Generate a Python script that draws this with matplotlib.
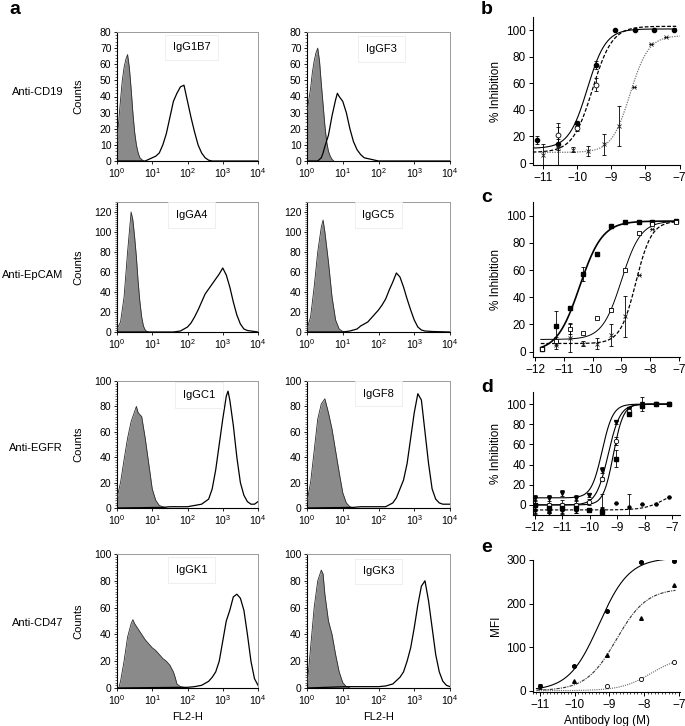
import numpy as np
import matplotlib
matplotlib.use('Agg')
import matplotlib.pyplot as plt
from matplotlib.ticker import LogLocator, NullFormatter, MultipleLocator, FixedLocator

plt.rcParams['font.family'] = ['Liberation Sans', 'DejaVu Sans']
plt.rcParams['mathtext.fontset'] = 'custom'
plt.rcParams['mathtext.rm'] = 'Liberation Sans'
plt.rcParams['axes.unicode_minus'] = True

# ---------------- Panel a : flow histograms (log10 FL2-H, counts) ----------------
g1b7_gray_log = [0.0, 0.05, 0.1, 0.15, 0.2, 0.25, 0.3, 0.35, 0.4, 0.45, 0.5, 0.55, 0.6, 0.65, 0.7, 0.75]
g1b7_gray_cnt = [12, 25, 38, 50, 58, 63, 66, 58, 45, 30, 18, 10, 5, 2, 1, 0]
g1b7_stain_log = [0.0, 0.8, 0.9, 1.0, 1.1, 1.2, 1.3, 1.4, 1.5, 1.6, 1.7, 1.8, 1.9, 2.0, 2.1, 2.2, 2.3, 2.4, 2.5, 2.6, 2.7, 4.0]
g1b7_stain_cnt = [0, 0, 1, 2, 3, 5, 10, 17, 27, 37, 42, 46, 47, 37, 27, 18, 10, 5, 2, 0.5, 0, 0]

gf3_gray_log = [0.0, 0.05, 0.1, 0.15, 0.2, 0.25, 0.3, 0.35, 0.4, 0.45, 0.5, 0.55, 0.6, 0.65, 0.7, 0.75]
gf3_gray_cnt = [30, 38, 45, 55, 62, 67, 70, 62, 48, 35, 22, 12, 6, 3, 1, 0]
gf3_stain_log = [0.0, 0.3, 0.4, 0.45, 0.5, 0.6, 0.7, 0.8, 0.85, 0.9, 1.0, 1.1, 1.2, 1.3, 1.4, 1.5, 1.6, 1.7, 1.8, 1.9, 2.0, 4.0]
gf3_stain_cnt = [0, 0, 2, 5, 9, 16, 28, 38, 42, 40, 37, 30, 20, 12, 7, 4, 2, 1.5, 1, 0.5, 0, 0]

ga4_gray_log = [0.0, 0.1, 0.2, 0.3, 0.35, 0.4, 0.45, 0.5, 0.55, 0.6, 0.65, 0.7, 0.75, 0.8, 0.85, 0.9]
ga4_gray_cnt = [3, 10, 35, 80, 100, 120, 112, 95, 75, 50, 30, 15, 6, 2, 0.5, 0]
ga4_stain_log = [0.0, 1.6, 1.8, 1.9, 2.0, 2.1, 2.2, 2.3, 2.4, 2.5, 2.6, 2.7, 2.8, 2.9, 3.0, 3.1, 3.2, 3.3, 3.4, 3.5, 3.6, 3.7, 3.8, 3.9, 4.0]
ga4_stain_cnt = [0, 0, 1, 3, 5, 9, 15, 22, 30, 38, 43, 48, 53, 58, 64, 57, 45, 30, 17, 8, 3, 1.5, 1, 0.5, 0]

gc5_gray_log = [0.0, 0.1, 0.2, 0.3, 0.4, 0.45, 0.5, 0.6, 0.7, 0.8, 0.9, 1.0, 1.1]
gc5_gray_cnt = [3, 15, 45, 80, 105, 112, 100, 70, 35, 12, 3, 0.5, 0]
gc5_stain_log = [0.0, 1.0, 1.2, 1.4, 1.5, 1.7, 1.9, 2.0, 2.1, 2.2, 2.3, 2.4, 2.5, 2.6, 2.7, 2.8, 2.9, 3.0, 3.1, 3.2, 3.3, 3.5, 4.0]
gc5_stain_cnt = [0, 0, 1, 3, 6, 10, 18, 22, 27, 33, 42, 50, 59, 55, 45, 33, 22, 12, 5, 2, 1, 0.5, 0]

gc1_gray_log = [0.0, 0.1, 0.2, 0.3, 0.4, 0.5, 0.55, 0.6, 0.7, 0.8, 0.9, 1.0, 1.1, 1.2, 1.3, 1.4]
gc1_gray_cnt = [8, 20, 38, 55, 68, 76, 80, 75, 72, 55, 35, 15, 6, 2, 1, 0]
gc1_stain_log = [0.0, 1.3, 1.5, 2.0, 2.4, 2.6, 2.7, 2.8, 2.9, 3.0, 3.1, 3.15, 3.2, 3.3, 3.4, 3.5, 3.6, 3.7, 3.8, 3.9, 4.0]
gc1_stain_cnt = [0, 0.5, 1, 1, 3, 7, 15, 30, 50, 70, 88, 92, 85, 65, 40, 20, 10, 5, 3, 3, 5]

gf8_gray_log = [0.0, 0.1, 0.2, 0.3, 0.4, 0.5, 0.6, 0.7, 0.8, 0.9, 1.0, 1.1, 1.2, 1.3]
gf8_gray_cnt = [5, 20, 45, 70, 82, 86, 75, 62, 45, 28, 12, 4, 1, 0]
gf8_stain_log = [0.0, 1.3, 1.5, 2.0, 2.2, 2.4, 2.5, 2.6, 2.7, 2.8, 2.9, 3.0, 3.1, 3.2, 3.3, 3.4, 3.5, 3.6, 3.7, 3.8, 3.9, 4.0]
gf8_stain_cnt = [0, 0.5, 1, 1, 1, 4, 8, 15, 22, 35, 55, 75, 90, 85, 60, 35, 15, 7, 4, 3, 3, 3]

gk1_gray_log = [0.0, 0.05, 0.1, 0.2, 0.3, 0.4, 0.45, 0.5, 0.6, 0.7, 0.8, 0.9, 1.0, 1.1, 1.2, 1.3, 1.4, 1.5, 1.6, 1.65, 1.7, 1.8, 1.9, 2.0]
gk1_gray_cnt = [0, 0, 5, 20, 38, 48, 51, 48, 44, 40, 36, 33, 30, 28, 25, 22, 20, 17, 12, 8, 3, 1, 0.5, 0]
gk1_stain_log = [0.0, 1.8, 2.0, 2.2, 2.4, 2.6, 2.7, 2.8, 2.9, 3.0, 3.1, 3.2, 3.3, 3.4, 3.5, 3.6, 3.7, 3.8, 3.9, 4.0]
gk1_stain_cnt = [0, 0.5, 0.5, 1, 2, 5, 8, 12, 20, 35, 50, 58, 68, 70, 67, 58, 40, 20, 7, 2]

gk3_gray_log = [0.0, 0.05, 0.1, 0.2, 0.3, 0.4, 0.45, 0.5, 0.6, 0.7, 0.8, 0.9, 1.0, 1.1, 1.2]
gk3_gray_cnt = [3, 15, 30, 60, 80, 88, 85, 70, 50, 40, 25, 12, 4, 1, 0]
gk3_stain_log = [0.0, 1.1, 1.5, 2.0, 2.2, 2.4, 2.6, 2.7, 2.8, 2.9, 3.0, 3.1, 3.2, 3.3, 3.4, 3.5, 3.6, 3.7, 3.8, 3.9, 4.0]
gk3_stain_cnt = [0, 1, 1, 1, 1.5, 3, 8, 12, 20, 30, 45, 62, 76, 80, 65, 45, 25, 12, 5, 2, 1]

row_labels = ['Anti-CD19', 'Anti-EpCAM', 'Anti-EGFR', 'Anti-CD47']
hist_names = [['IgG1B7', 'IgGF3'], ['IgGA4', 'IgGC5'], ['IgGC1', 'IgGF8'], ['IgGK1', 'IgGK3']]
hist_ymax = [80, 130, 100, 100]
hist_ystep = [10, 20, 20, 20]
hist_xtick_labels = ['$10^{0}$', '$10^{1}$', '$10^{2}$', '$10^{3}$', '$10^{4}$']

# ---------------- Panels b-e : dose response ----------------
# fit parameters: [bottom, top, logEC50, hill]
b_x_fc = [-11.16, -10.57, -10.01, -9.45, -8.89, -8.31, -7.75, -7.16]
b_y_fc = [17, 14, 30, 74, 100, 100, 100, 100]
b_e_fc = [3, 4, 2, 3, 0, 0, 0, 0]
b_x_oc = [-10.57, -10.01, -9.45]
b_y_oc = [21, 26, 59]
b_e_oc = [9, 2, 5]
b_x_cr = [-11.0, -10.55, -10.11, -9.68, -9.22, -8.77, -8.33, -7.85, -7.41]
b_y_cr = [6, 12, 10, 9, 14, 28, 57, 90, 95]
b_e_cr = [8, 15, 2, 4, 8, 15, 0, 0, 0]
b_fit_fc = [11, 101, -9.7, 1.6]
b_fit_oc = [8, 103, -9.55, 1.5]
b_fit_cr = [8, 96, -8.45, 1.6]

c_x = [-11.77, -11.27, -10.78, -10.32, -9.86, -9.37, -8.88, -8.40, -7.93, -7.10]
c_y_fs = [2, 19, 32, 57, 72, 92, 95, 95, 95, 96]
c_e_fs = [0, 11, 0, 5, 1, 0, 0, 0, 0, 0]
c_y_os = [2, 8, 17, 14, 25, 31, 60, 87, 94, 95]
c_e_os = [0, 3, 4, 0, 0, 1, 0, 1, 1, 0]
c_x_cr = [-11.27, -10.78, -10.32, -9.86, -9.37, -8.88, -8.40, -7.93]
c_y_cr = [5, 10, 6, 6, 12, 26, 56, 90]
c_e_cr = [3, 10, 2, 4, 8, 15, 0, 0]
c_fit_fs = [0, 96, -10.45, 1.1]
c_fit_os = [9, 96, -9.0, 1.3]
c_fit_cr = [6, 96, -8.5, 1.6]

d_x = [-12.0, -11.5, -11.0, -10.5, -10.03, -9.54, -9.05, -8.57, -8.08, -7.59, -7.10]
d_y_tri = [7, 7, 12, 7, 10, 35, 82, 95, 100, 100, 100]
d_e_tri = [3, 3, 3, 3, 2, 3, 2, 2, 7, 1, 1]
d_y_oc = [0, 0, 0, 0, 3, 26, 63, 93, 98, 100, 100]
d_e_oc = [8, 8, 5, 5, 3, 2, 4, 2, 2, 0, 0]
d_y_sq = [0, -3, -3, -3, -5, -7, 46, 90, 98, 100, 100]
d_e_sq = [5, 5, 5, 5, 2, 18, 8, 2, 0, 0, 0]
d_y_dot = [-5, -7, -5, -5, -5, -4, 2, -2, 1, 1, 8]
d_e_dot = [4, 3, 4, 3, 2, 2, 0, 13, 0, 0, 0]
d_fit_tri = [7, 100, -9.55, 2.2]
d_fit_oc = [0, 100, -9.33, 2.0]
d_fit_sq = [0, 100, -9.14, 2.4]
d_fit_dot = [-5, 15, -7.3, 1.2]

e_x_fc = [-11.0, -10.02, -9.06, -8.08, -7.13]
e_y_fc = [10, 57, 183, 295, 297]
e_e_fc = [5, 3, 3, 2, 2]
e_x_tri = [-10.02, -9.06, -8.08, -7.13]
e_y_tri = [23, 82, 168, 243]
e_x_oc = [-9.06, -8.08, -7.13]
e_y_oc = [10, 26, 66]
e_fit_fc = [0, 305, -9.3, 1.0]
e_fit_tri = [0, 235, -8.8, 1.0]
e_fit_oc = [0, 80, -7.8, 1.0]

# ---------------- drawing ----------------
W, H = 685, 726
fig = plt.figure(figsize=(W / 100, H / 100), dpi=100)


def px_axes(l, t, r, b):
    return fig.add_axes([l / W, 1 - b / H, (r - l) / W, (b - t) / H])


def four_pl(x, p):
    bottom, top, ec, hill = p
    return bottom + (top - bottom) / (1 + 10 ** ((ec - x) * hill))


hist_data = [
    [(g1b7_gray_log, g1b7_gray_cnt, g1b7_stain_log, g1b7_stain_cnt),
     (gf3_gray_log, gf3_gray_cnt, gf3_stain_log, gf3_stain_cnt)],
    [(ga4_gray_log, ga4_gray_cnt, ga4_stain_log, ga4_stain_cnt),
     (gc5_gray_log, gc5_gray_cnt, gc5_stain_log, gc5_stain_cnt)],
    [(gc1_gray_log, gc1_gray_cnt, gc1_stain_log, gc1_stain_cnt),
     (gf8_gray_log, gf8_gray_cnt, gf8_stain_log, gf8_stain_cnt)],
    [(gk1_gray_log, gk1_gray_cnt, gk1_stain_log, gk1_stain_cnt),
     (gk3_gray_log, gk3_gray_cnt, gk3_stain_log, gk3_stain_cnt)],
]

row_box = [(32, 161), (202, 332), (381, 508), (554, 688)]
col_box = [(117, 258), (307, 450)]
row_label_y = [92, 275, 448, 623]
name_pos = [[(0.53, 0.88), (0.52, 0.87)], [(0.53, 0.9), (0.5, 0.9)],
            [(0.58, 0.89), (0.5, 0.9)], [(0.53, 0.88), (0.5, 0.87)]]

for r in range(4):
    t, b = row_box[r]
    for c in range(2):
        l, rr = col_box[c]
        ax = px_axes(l, t, rr, b)
        glog, gcnt, slog, scnt = hist_data[r][c]
        gx = 10 ** np.array(glog)
        sx = 10 ** np.array(slog)
        ax.fill_between(gx, 0, gcnt, color='#8a8a8a', lw=0, zorder=2)
        ax.plot(gx, gcnt, color='#2a2a2a', lw=0.6, zorder=3)
        ax.plot(sx, scnt, color='black', lw=0.9, zorder=4)
        ax.set_xscale('log')
        ax.set_xlim(1, 1e4)
        ax.set_ylim(0, hist_ymax[r])
        ax.set_xticks([1, 10, 100, 1000, 10000])
        ax.set_xticklabels(hist_xtick_labels)
        ax.xaxis.set_minor_locator(LogLocator(base=10, subs=np.arange(2, 10)))
        ax.xaxis.set_minor_formatter(NullFormatter())
        ax.yaxis.set_major_locator(MultipleLocator(hist_ystep[r]))
        ax.yaxis.set_minor_locator(MultipleLocator(2))
        ax.tick_params(which='major', direction='out', length=2.5, width=0.6,
                       labelsize=7.5, pad=1.5)
        ax.tick_params(which='minor', direction='out', length=1.2, width=0.4)
        for s in ['top', 'right']:
            ax.spines[s].set_color('#9a9a9a')
            ax.spines[s].set_linewidth(0.7)
        for s in ['left', 'bottom']:
            ax.spines[s].set_linewidth(0.8)
        nx, ny = name_pos[r][c]
        ax.text(nx, ny, hist_names[r][c], transform=ax.transAxes, ha='center',
                va='center', fontsize=8,
                bbox=dict(boxstyle='square,pad=0.7', fc='white', ec='#ececec', lw=0.6),
                zorder=5)
        if c == 0:
            fig.text(78 / W, 1 - ((t + b) / 2) / H, 'Counts', rotation=90,
                     ha='center', va='center', fontsize=8)
        if r == 3:
            fig.text(((l + rr) / 2) / W, 1 - 717 / H, 'FL2-H', ha='center',
                     va='center', fontsize=8)
    fig.text(63 / W, 1 - row_label_y[r] / H, row_labels[r], ha='right',
             va='center', fontsize=8)


def style_dr(ax, xlim, ylim, xticks, yticks):
    ax.set_xlim(*xlim)
    ax.set_ylim(*ylim)
    ax.set_xticks(xticks)
    ax.set_yticks(yticks)
    ax.spines['top'].set_visible(False)
    ax.spines['right'].set_visible(False)
    ax.spines['left'].set_linewidth(0.8)
    ax.spines['bottom'].set_linewidth(0.8)
    ax.tick_params(direction='out', length=3, width=0.7, labelsize=8.5, pad=2)


ebkw = dict(capsize=1.5, elinewidth=0.6, capthick=0.6, ls='none', color='black', zorder=4)

# panel b
ax = px_axes(533, 17, 680, 165)
xs = np.linspace(-11.3, -7.1, 200)
ax.plot(xs, four_pl(xs, b_fit_fc), color='black', lw=0.8)
ax.plot(xs, four_pl(xs, b_fit_oc), color='black', lw=0.9, ls=(0, (3, 1.5)))
xs2 = np.linspace(-11.1, -7.0, 200)
ax.plot(xs2, four_pl(xs2, b_fit_cr), color='#777777', lw=0.9, ls=(0, (1, 1)))
ax.errorbar(b_x_fc, b_y_fc, yerr=b_e_fc, marker='o', ms=3, mfc='black', mec='black', **ebkw)
ax.errorbar(b_x_oc, b_y_oc, yerr=b_e_oc, marker='o', ms=3.5, mfc='white', mec='black', mew=0.6, **ebkw)
ax.errorbar(b_x_cr, b_y_cr, yerr=b_e_cr, marker='x', ms=3, mec='#222222', mew=0.6, **ebkw)
style_dr(ax, (-11.29, -6.99), (-1.5, 110), [-11, -10, -9, -8, -7], [0, 20, 40, 60, 80, 100])
ax.set_ylabel('% Inhibition', fontsize=8.5, labelpad=3)

# panel c
ax = px_axes(533, 202, 680, 357)
xs = np.linspace(-11.8, -7.1, 200)
ax.plot(xs, four_pl(xs, c_fit_fs), color='black', lw=1.2)
ax.plot(xs, four_pl(xs, c_fit_os), color='black', lw=0.7)
ax.plot(xs, four_pl(xs, c_fit_cr), color='black', lw=0.9, ls=(0, (3, 1.5)))
ax.errorbar(c_x, c_y_fs, yerr=c_e_fs, marker='s', ms=3, mfc='black', mec='black', **ebkw)
ax.errorbar(c_x, c_y_os, yerr=c_e_os, marker='s', ms=3.5, mfc='white', mec='black', mew=0.6, **ebkw)
ax.errorbar(c_x_cr, c_y_cr, yerr=c_e_cr, marker='x', ms=3, mec='#222222', mew=0.6, **ebkw)
style_dr(ax, (-12.07, -6.97), (-3.9, 110), [-12, -11, -10, -9, -8, -7], [0, 20, 40, 60, 80, 100])
ax.set_ylabel('% Inhibition', fontsize=8.5, labelpad=3)

# panel d
ax = px_axes(533, 392, 680, 515)
xs = np.linspace(-12.0, -7.1, 200)
ax.plot(xs, four_pl(xs, d_fit_tri), color='black', lw=0.8)
ax.plot(xs, four_pl(xs, d_fit_oc), color='black', lw=0.8)
ax.plot(xs, four_pl(xs, d_fit_sq), color='black', lw=0.8)
ax.plot(xs, four_pl(xs, d_fit_dot), color='black', lw=0.8, ls=(0, (3, 1.5)))
ax.errorbar(d_x, d_y_tri, yerr=d_e_tri, marker='v', ms=2.8, mfc='black', mec='black', **ebkw)
ax.errorbar(d_x, d_y_oc, yerr=d_e_oc, marker='o', ms=3.2, mfc='white', mec='black', mew=0.6, **ebkw)
ax.errorbar(d_x, d_y_sq, yerr=d_e_sq, marker='s', ms=2.6, mfc='black', mec='black', **ebkw)
ax.errorbar(d_x, d_y_dot, yerr=d_e_dot, marker='o', ms=2.2, mfc='black', mec='black', **ebkw)
style_dr(ax, (-12.07, -6.71), (-10, 112), [-12, -11, -10, -9, -8, -7], [0, 20, 40, 60, 80, 100])
ax.set_ylabel('% Inhibition', fontsize=8.5, labelpad=3)

# panel e
ax = px_axes(533, 560, 680, 692)
xs = np.linspace(-11.1, -7.1, 200)
ax.plot(xs, four_pl(xs, e_fit_fc), color='black', lw=0.8)
ax.plot(xs, four_pl(xs, e_fit_tri), color='#333333', lw=0.8, ls=(0, (3, 1, 1, 1)))
ax.plot(xs, four_pl(xs, e_fit_oc), color='#666666', lw=0.8, ls=(0, (1, 1)))
ax.errorbar(e_x_fc, e_y_fc, yerr=e_e_fc, marker='o', ms=2.6, mfc='black', mec='black', **ebkw)
ax.plot(e_x_tri, e_y_tri, ls='none', marker='^', ms=2.6, mfc='black', mec='black')
ax.plot(e_x_oc, e_y_oc, ls='none', marker='o', ms=3, mfc='white', mec='black', mew=0.6)
style_dr(ax, (-11.2, -6.97), (-3, 300), [-11, -10, -9, -8, -7], [0, 100, 200, 300])
ax.xaxis.set_minor_locator(MultipleLocator(0.1))
ax.tick_params(which='minor', direction='out', length=1.5, width=0.5)
ax.set_ylabel('MFI', fontsize=8.5, labelpad=3)
ax.set_xlabel('Antibody log (M)', fontsize=8.5, labelpad=3)

# panel letters
for letter, (x, y) in zip('abcde', [(9, 10), (481, 9), (481, 198), (481, 387), (481, 547)]):
    fig.text(x / W, 1 - y / H, letter, fontsize=14, fontweight='bold', ha='left', va='center')

fig.savefig('out.png', dpi=100)
